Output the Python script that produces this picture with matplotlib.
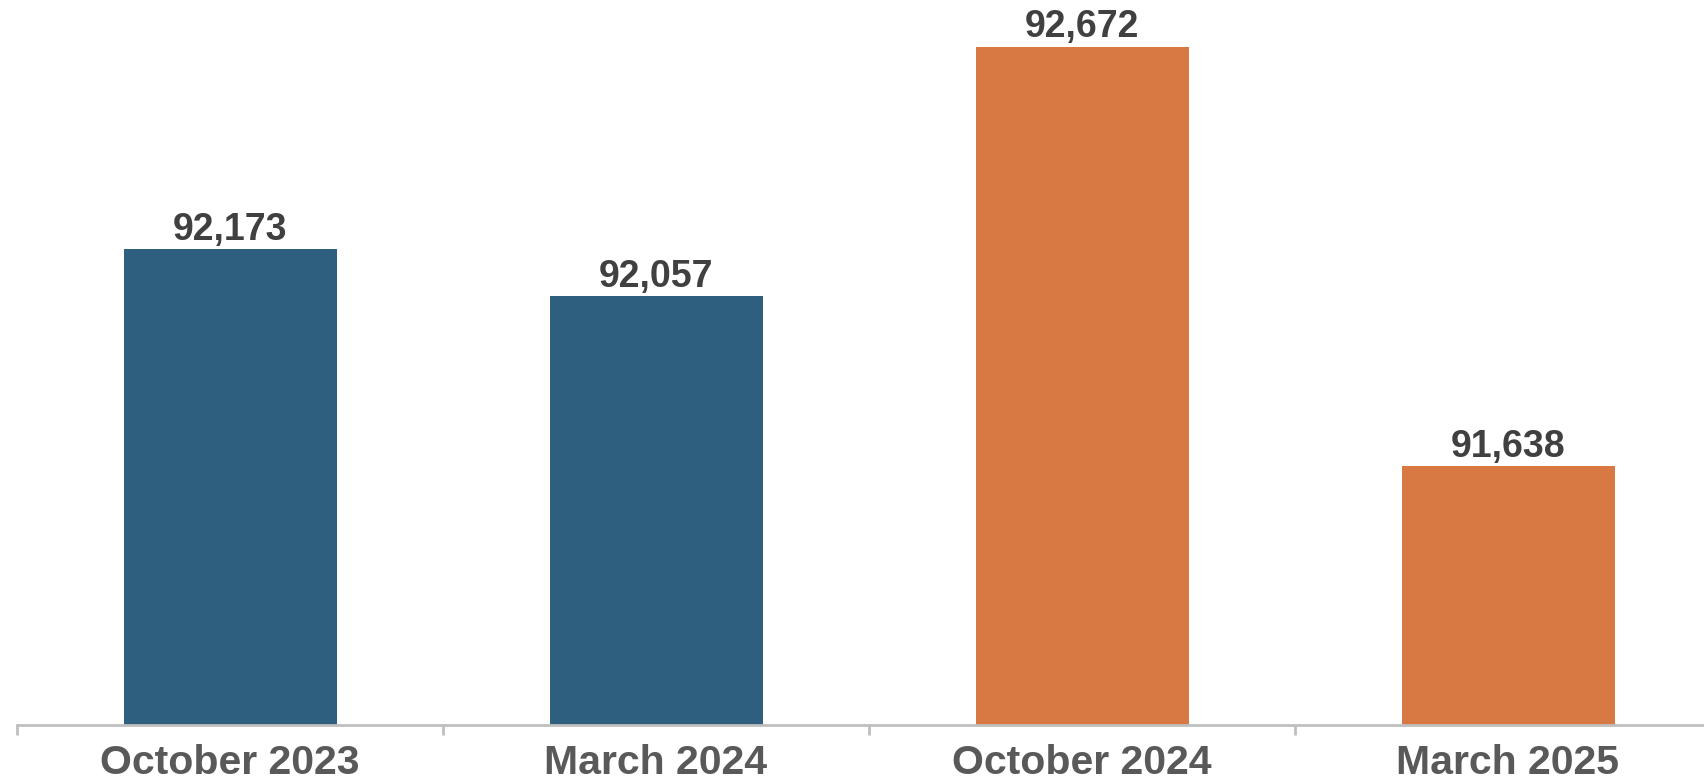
import matplotlib
matplotlib.use("Agg")
import matplotlib.pyplot as plt
from matplotlib.ticker import FixedLocator

categories = ["October 2023", "March 2024", "October 2024", "March 2025"]
values = [92173, 92057, 92672, 91638]
colors = ["#2E5F7F", "#2E5F7F", "#D87842", "#D87842"]
labels = ["92,173", "92,057", "92,672", "91,638"]

plt.rcParams['font.family'] = ['Liberation Sans', 'DejaVu Sans']

W, H = 1704, 784
fig = plt.figure(figsize=(W / 100, H / 100), dpi=100)
left = 17 / W
width = 4 * 426 / W
bottom = (H - 725) / H
ax = fig.add_axes([left, bottom, width, 1 - bottom])

x = list(range(len(categories)))
ax.bar(x, values, width=0.5, color=colors, zorder=2)
ax.set_xlim(-0.5, 3.5)
ax.set_ylim(91000, 92787)

for xi, v, lab in zip(x, values, labels):
    ax.annotate(lab, (xi, v), xytext=(0, 1), textcoords="offset points",
                ha="center", va="bottom", fontsize=27, fontweight="bold",
                color="#404040")

for s in ["top", "right", "left"]:
    ax.spines[s].set_visible(False)
ax.spines["bottom"].set_color("#BFBFBF")
ax.spines["bottom"].set_linewidth(2)
ax.set_yticks([])
ax.set_xticks(x)
ax.set_xticklabels(categories, fontsize=29.5, fontweight="bold", color="#595959")
ax.tick_params(axis="x", which="major", length=0, pad=14)
ax.xaxis.set_minor_locator(FixedLocator([-0.5, 0.5, 1.5, 2.5, 3.5]))
ax.tick_params(axis="x", which="minor", length=7, width=2, color="#BFBFBF")

fig.savefig("out.png", dpi=100, facecolor="white")
